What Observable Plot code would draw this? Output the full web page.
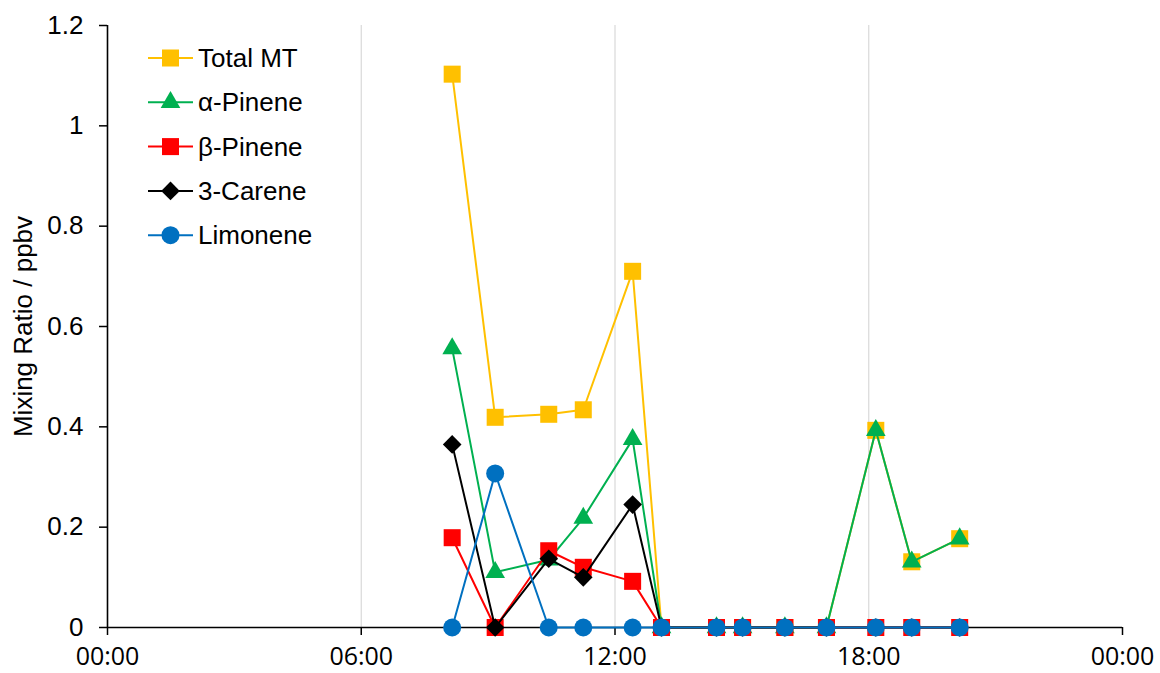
<!DOCTYPE html>
<html>
<head>
<meta charset="utf-8">
<script src="https://cdn.jsdelivr.net/npm/d3@7"></script>
<script src="https://cdn.jsdelivr.net/npm/@observablehq/plot@0.6"></script>
<style>
  html, body { margin: 0; padding: 0; background: #fff; }
  #wrap { position: relative; width: 1160px; height: 673px; }
  #legend { position: absolute; left: 0; top: 0; pointer-events: none; }
</style>
</head>
<body>
<div id="wrap"></div>
<script>
// ---- data ----
const times = ["08:09","09:10","10:26","11:15","12:25","13:06","14:24","15:01","16:01","17:00","18:10","19:01","20:09"];
const totalMT     = [1.103, 0.419, 0.425, 0.434, 0.710, 0, 0, 0, 0, 0, 0.393, 0.131, 0.177];
const alphaPinene = [0.556, 0.110, 0.135, 0.218, 0.375, 0, 0, 0, 0, 0, 0.393, 0.131, 0.177];
const betaPinene  = [0.179, 0, 0.153, 0.120, 0.092, 0, 0, 0, 0, 0, 0, 0, 0];
const carene3     = [0.365, 0, 0.137, 0.100, 0.245, 0, 0, 0, 0, 0, 0, 0, 0];
const limonene    = [0, 0.307, 0, 0, 0, 0, 0, 0, 0, 0, 0, 0, 0];

const seriesNames   = ["Total MT", "α-Pinene", "β-Pinene", "3-Carene", "Limonene"];
const seriesValues  = [totalMT, alphaPinene, betaPinene, carene3, limonene];
const seriesColors  = ["#FFC000", "#00B050", "#FF0000", "#000000", "#0070C0"];
const seriesSymbols = ["square", "triangle", "square", "diamond", "circle"];
const seriesRadius  = [9.6, 7.3, 9.6, 8.4, 9];

const xTicks = [0, 6, 12, 18, 24];
const xTickLabels = ["00:00", "06:00", "12:00", "18:00", "00:00"];
const gridHours = [6, 12, 18];
const yTicks = [0, 0.2, 0.4, 0.6, 0.8, 1.0, 1.2];
const yTickLabels = ["0", "0.2", "0.4", "0.6", "0.8", "1", "1.2"];
const yLabel = "Mixing Ratio / ppbv";

// ---- helpers ----
const toHour = t => { const [h, m] = t.split(":").map(Number); return h + m / 60; };
const diamondSym = {
  draw(ctx, size) {
    const h = Math.sqrt(size) * 0.62625;
    ctx.moveTo(0, -h); ctx.lineTo(h, 0); ctx.lineTo(0, h); ctx.lineTo(-h, 0); ctx.closePath();
  }
};
const symOf = s => s === "diamond" ? diamondSym : s;

const seriesMarks = [];
seriesNames.forEach((name, k) => {
  const rows = times.map((t, i) => ({hour: toHour(t), value: seriesValues[k][i]}));
  seriesMarks.push(Plot.line(rows, {x: "hour", y: "value", stroke: seriesColors[k], strokeWidth: 2}));
  seriesMarks.push(Plot.dot(rows, {x: "hour", y: "value", fill: seriesColors[k], stroke: "none",
    symbol: symOf(seriesSymbols[k]), r: seriesRadius[k]}));
});

const W = 1160, H = 673, ML = 107, MR = 38, MT = 25, MB = 46;

const chart = Plot.plot({
  width: W, height: H,
  marginLeft: ML, marginRight: MR, marginTop: MT, marginBottom: MB,
  x: {domain: [0, 24]},
  y: {domain: [0, 1.2]},
  style: {fontFamily: "'Liberation Sans', Arial, sans-serif", fontSize: "26px", color: "#000", background: "#fff"},
  marks: [
    Plot.ruleX(gridHours, {stroke: "#d9d9d9", strokeWidth: 1.2}),
    Plot.axisY({ticks: yTicks, tickFormat: d => yTickLabels[yTicks.indexOf(d)], tickSize: 8, tickPadding: 16,
      stroke: "#000", strokeWidth: 1.5, label: yLabel, labelAnchor: "center", labelArrow: "none", labelOffset: 94}),
    Plot.axisX({ticks: xTicks, tickFormat: d => xTickLabels[xTicks.indexOf(d)], tickSize: 8, tickPadding: 12,
      stroke: "#000", strokeWidth: 1.5, label: null, fontFamily: "'Open Sans', sans-serif", fontSize: 25}),
    Plot.ruleX([0], {stroke: "#000", strokeWidth: 1.6}),
    Plot.ruleY([0], {stroke: "#000", strokeWidth: 1.6}),
    ...seriesMarks
  ]
});

const wrap = document.getElementById("wrap");
wrap.appendChild(chart);

// ---- legend overlay ----
const leg = d3.select(wrap).append("svg").attr("id", "legend").attr("width", W).attr("height", H);
const rowY0 = 58, rowStep = 44.3, lineX0 = 148, lineX1 = 193, markX = 170.5, textX = 198;
seriesNames.forEach((name, k) => {
  const y = rowY0 + k * rowStep;
  const g = leg.append("g");
  g.append("line").attr("x1", lineX0).attr("x2", lineX1).attr("y1", y).attr("y2", y)
    .attr("stroke", seriesColors[k]).attr("stroke-width", 2);
  const sym = seriesSymbols[k] === "diamond" ? diamondSym : ({square: d3.symbolSquare, triangle: d3.symbolTriangle, circle: d3.symbolCircle})[seriesSymbols[k]];
  g.append("path").attr("transform", `translate(${markX},${y})`)
    .attr("d", d3.symbol(sym, Math.PI * seriesRadius[k] ** 2)())
    .attr("fill", seriesColors[k]);
  g.append("text").attr("x", textX).attr("y", y).attr("dy", "0.35em")
    .attr("font-family", "'Liberation Sans', Arial, sans-serif").attr("font-size", 26)
    .attr("fill", "#000").text(name);
});
</script>
</body>
</html>
